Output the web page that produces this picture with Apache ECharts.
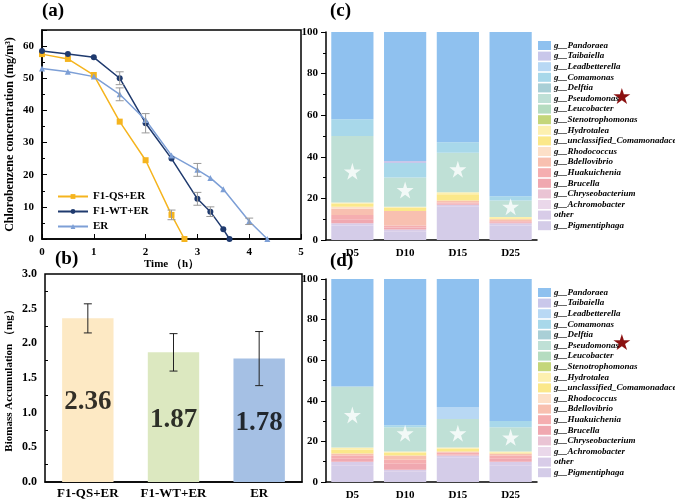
<!DOCTYPE html>
<html>
<head>
<meta charset="utf-8">
<script src="https://cdn.jsdelivr.net/npm/echarts@6/dist/echarts.min.js"></script>
<style>html,body{margin:0;padding:0;background:#fff}#main{width:675px;height:502px}</style>
</head>
<body>
<div id="main"></div>
<script>
// (a) 氯苯浓度
var qsData = [[0, 57.5], [0.5, 56], [1, 51], [1.5, 36.5], [2, 24.5], [2.5, 7.5], [2.75, 0]];
var wtData = [[0, 58.5], [0.5, 57.5], [1, 56.5], [1.5, 50], [2, 36], [2.5, 25], [3, 12.5], [3.25, 8.5], [3.5, 3], [3.62, 0]];
var erData = [[0, 53], [0.5, 52], [1, 50.5], [1.5, 45], [2, 37], [2.5, 26], [3, 21.5], [3.25, 19], [3.5, 15.5], [4, 5.5], [4.35, 0]];
var lineErr = [[2, 36, 3], [1.5, 50, 2], [1.5, 45, 2], [3, 21.5, 2], [3, 12.5, 2], [2.5, 7.5, 1.5], [3.25, 8.5, 1.5], [4, 5.5, 1]];

// (b) 生物量
var bioCats = ['F1-QS+ER', 'F1-WT+ER', 'ER'];
var bioVals = [2.36, 1.87, 1.78];
var bioErr = [0.21, 0.27, 0.39];
var bioLabelY = [1.15, 0.9, 0.85];

// (c)(d) 群落组成
var days = ['D5', 'D10', 'D15', 'D25'];
var genera = ['g__Pandoraea', 'g__Taibaiella', 'g__Leadbetterella', 'g__Comamonas', 'g__Delftia', 'g__Pseudomonas',
  'g__Leucobacter', 'g__Stenotrophomonas', 'g__Hydrotalea', 'g__unclassified_Comamonadaceae', 'g__Rhodococcus',
  'g__Bdellovibrio', 'g__Huakuichenia', 'g__Brucella', 'g__Chryseobacterium', 'g__Achromobacter', 'other', 'g__Pigmentiphaga'];
var colors = ['#8fc1ef', '#c9c7ea', '#b8d8f4', '#a8d8ea', '#a9cfd6', '#bfe0d6', '#b5dcc0', '#c4d67a', '#fdf0b0', '#fbe88a',
  '#fde0c8', '#f8c0b0', '#f5aeb0', '#f0a8b0', '#eac4d4', '#ead8ea', '#d8cce8', '#d4cce8'];
// 与 genera 顺序相同, 每行为 D5 D10 D15 D25
var compC = [
  [43, 62, 53, 79], [0, 1, 0, 0], [0, 0, 0, 0], [8, 7, 5, 2], [0, 0, 0, 0], [32, 14, 19, 8],
  [0, 0, 0, 0], [0, 0, 0, 0], [0.5, 0.5, 1, 0.5], [1.5, 1.5, 3, 0.5], [1, 0, 0, 0],
  [3, 7, 1, 1], [2, 1, 0.5, 0.5], [2, 1, 0.5, 0.5], [0, 0, 0, 0], [0, 0, 0, 0], [1, 1, 1, 1], [7, 4, 16, 7]];
var compD = [
  [53, 72, 63, 70], [0, 0, 0, 0], [0, 0, 6, 0], [0, 1, 0, 3], [0, 0, 0, 0], [30, 12, 14, 12],
  [0, 0, 0, 0], [0, 0, 0, 0], [1, 0.5, 0.5, 0.5], [2, 1.5, 1.5, 0.5], [0, 0, 0, 0],
  [1, 2, 0.5, 1], [1.5, 2, 1, 1.5], [1.5, 3, 0.5, 1.5], [0, 0, 0, 0], [0, 0, 0, 0], [2, 1, 1, 2], [8, 5, 12, 8]];
var starC = [33, 24, 34, 16];
var starD = [33, 24, 24, 22];

var STAR = 'path://M50,0 L61,35 L98,35 L68,57 L79,91 L50,70 L21,91 L32,57 L2,35 L39,35 Z';
var font = 'Liberation Serif';
var chart = echarts.init(document.getElementById('main'));

var axisLbl = {color: '#000', fontFamily: font, fontWeight: 'bold', fontSize: 11};
var axLine = {lineStyle: {color: '#000', width: 1.5}};

function errSeries(xi, yi, data, color) {
  return {
    type: 'custom', xAxisIndex: xi, yAxisIndex: yi, silent: true, z: 5,
    renderItem: function (params, api) {
      var lo = api.coord([api.value(0), api.value(1) - api.value(2)]);
      var hi = api.coord([api.value(0), api.value(1) + api.value(2)]);
      var w = 4;
      var st = {stroke: color, lineWidth: 1};
      return {type: 'group', children: [
        {type: 'line', shape: {x1: lo[0], y1: lo[1], x2: hi[0], y2: hi[1]}, style: st},
        {type: 'line', shape: {x1: lo[0] - w, y1: lo[1], x2: lo[0] + w, y2: lo[1]}, style: st},
        {type: 'line', shape: {x1: hi[0] - w, y1: hi[1], x2: hi[0] + w, y2: hi[1]}, style: st}
      ]};
    },
    data: data
  };
}

var series = [
  {name: 'F1-QS+ER', type: 'line', xAxisIndex: 0, yAxisIndex: 0, data: qsData, color: '#f5b41e', symbol: 'rect', symbolSize: 6, lineStyle: {width: 1.5}},
  {name: 'F1-WT+ER', type: 'line', xAxisIndex: 0, yAxisIndex: 0, data: wtData, color: '#1f3a6e', symbol: 'circle', symbolSize: 6, lineStyle: {width: 1.5}},
  {name: 'ER', type: 'line', xAxisIndex: 0, yAxisIndex: 0, data: erData, color: '#7d9fd6', symbol: 'triangle', symbolSize: 6, lineStyle: {width: 1.5}},
  errSeries(0, 0, lineErr, '#999'),
  {type: 'bar', xAxisIndex: 1, yAxisIndex: 1, barWidth: '60%', silent: true,
    data: bioVals.map(function (v, i) { return {value: v, itemStyle: {color: ['#fde9c4', '#dce8c0', '#a5c0e4'][i]}}; })},
  errSeries(1, 1, bioVals.map(function (v, i) { return [i, v, bioErr[i]]; }), '#222'),
  {type: 'scatter', xAxisIndex: 1, yAxisIndex: 1, symbolSize: 0, silent: true,
    data: bioLabelY.map(function (y, i) { return [i, y]; }),
    label: {show: true, position: 'inside', fontFamily: font, fontWeight: 'bold', fontSize: 27, color: '#000',
      formatter: function (p) { return bioVals[p.dataIndex].toFixed(2); }}}
];

[[compC, starC, 2], [compD, starD, 3]].forEach(function (set) {
  for (var g = genera.length - 1; g >= 0; g--) {
    series.push({name: genera[g], type: 'bar', stack: 's' + set[2], xAxisIndex: set[2], yAxisIndex: set[2],
      barWidth: '80%', color: colors[g], data: set[0][g], silent: true});
  }
  series.push({type: 'scatter', xAxisIndex: set[2], yAxisIndex: set[2], symbol: STAR, symbolSize: 17, z: 10,
    itemStyle: {color: '#fff'}, silent: true, data: set[1].map(function (v, i) { return [i, v]; })});
});

function legendAt(top) {
  return {orient: 'vertical', left: 533, top: top, itemWidth: 13, itemHeight: 9, itemGap: 1.6,
    data: genera, selectedMode: false, icon: 'rect',
    textStyle: {fontFamily: font, fontStyle: 'italic', fontWeight: 'bold', fontSize: 9, lineHeight: 9, color: '#000', padding: [0, 0, 0, -2]}};
}

chart.setOption({
  animation: false,
  grid: [
    {left: 42, top: 30, width: 259, height: 209, show: true, borderColor: '#000', borderWidth: 1.5},
    {left: 45, top: 274, width: 257, height: 208, show: true, borderColor: '#000', borderWidth: 1.5},
    {left: 326, top: 32, width: 211, height: 208},
    {left: 326, top: 279, width: 211, height: 203}
  ],
  xAxis: [
    {type: 'value', gridIndex: 0, min: 0, max: 5, interval: 1, axisLine: axLine, axisTick: {inside: true, lineStyle: {color: '#000'}},
      splitLine: {show: false}, axisLabel: axisLbl,
      name: 'Time （h）', nameLocation: 'middle', nameGap: 14, nameTextStyle: {fontFamily: font, fontWeight: 'bold', fontSize: 11, color: '#000'}},
    {type: 'category', gridIndex: 1, data: bioCats, axisLine: axLine, axisTick: {show: false},
      axisLabel: {interval: 0, color: '#000', fontFamily: font, fontWeight: 'bold', fontSize: 13, margin: 5}},
    {type: 'category', gridIndex: 2, data: days, axisLine: axLine, axisTick: {lineStyle: {color: '#000'}}, axisLabel: axisLbl},
    {type: 'category', gridIndex: 3, data: days, axisLine: axLine, axisTick: {lineStyle: {color: '#000'}}, axisLabel: axisLbl}
  ],
  yAxis: [
    {type: 'value', gridIndex: 0, min: 0, max: 65, interval: 10, axisLine: axLine, axisTick: {inside: true, lineStyle: {color: '#000'}},
      minorTick: {show: true, splitNumber: 2}, splitLine: {show: false},
      axisLabel: {color: '#000', fontFamily: font, fontWeight: 'bold', fontSize: 11, formatter: function (v) { return v > 60 ? '' : v; }},
      name: 'Chlorobenzene concentration (mg/m³)', nameLocation: 'middle', nameGap: 26,
      nameTextStyle: {fontFamily: font, fontWeight: 'bold', fontSize: 12, color: '#000'}},
    {type: 'value', gridIndex: 1, min: 0, max: 3, interval: 0.5, axisLine: axLine, axisTick: {inside: true, lineStyle: {color: '#000'}},
      minorTick: {show: true, splitNumber: 2}, splitLine: {show: false},
      axisLabel: {color: '#000', fontFamily: font, fontWeight: 'bold', fontSize: 12, formatter: function (v) { return v.toFixed(1); }},
      name: 'Biomass Accumulation （mg）', nameLocation: 'middle', nameGap: 30,
      nameTextStyle: {fontFamily: font, fontWeight: 'bold', fontSize: 11, color: '#000'}},
    {type: 'value', gridIndex: 2, min: 0, max: 100, interval: 20, axisLine: {show: true, lineStyle: {color: '#000', width: 1.5}},
      axisTick: {show: true, lineStyle: {color: '#000'}}, minorTick: {show: true, splitNumber: 2}, splitLine: {show: false}, axisLabel: axisLbl},
    {type: 'value', gridIndex: 3, min: 0, max: 100, interval: 20, axisLine: {show: true, lineStyle: {color: '#000', width: 1.5}},
      axisTick: {show: true, lineStyle: {color: '#000'}}, minorTick: {show: true, splitNumber: 2}, splitLine: {show: false}, axisLabel: axisLbl}
  ],
  legend: [
    {left: 52, top: 186, orient: 'vertical', itemWidth: 30, itemHeight: 6, itemGap: 4,
      data: ['F1-QS+ER', 'F1-WT+ER', 'ER'], selectedMode: false,
      textStyle: {fontFamily: font, fontWeight: 'bold', fontSize: 11, color: '#000'}},
    legendAt(36),
    legendAt(283)
  ],
  graphic: [
    {type: 'text', left: 42, top: 2, style: {text: '(a)', font: 'bold 19px "Liberation Serif"', fill: '#000'}},
    {type: 'text', left: 55, top: 250, style: {text: '(b)', font: 'bold 19px "Liberation Serif"', fill: '#000'}},
    {type: 'text', left: 330, top: 2, style: {text: '(c)', font: 'bold 19px "Liberation Serif"', fill: '#000'}},
    {type: 'text', left: 330, top: 252, style: {text: '(d)', font: 'bold 19px "Liberation Serif"', fill: '#000'}},
    {type: 'text', left: 612, top: 87, style: {text: '★', font: '22px "DejaVu Sans"', fill: '#8b1010'}},
    {type: 'text', left: 612, top: 333, style: {text: '★', font: '22px "DejaVu Sans"', fill: '#8b1010'}}
  ],
  series: series
});
</script>
</body>
</html>
